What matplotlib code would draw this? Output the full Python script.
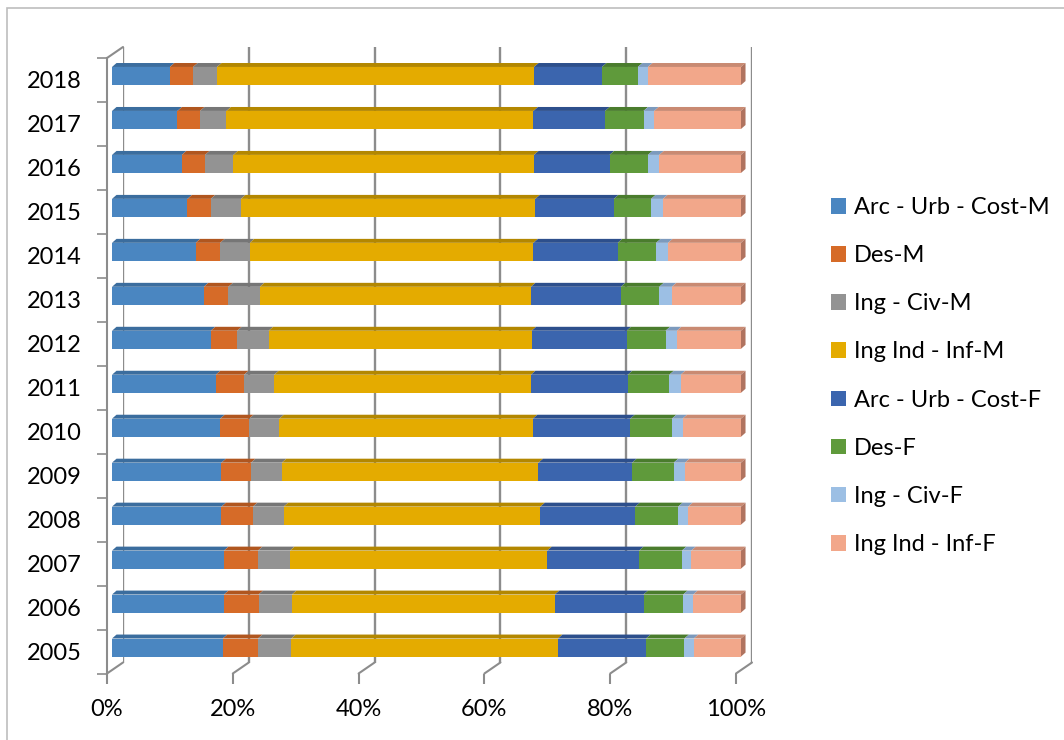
import matplotlib.pyplot as plt
import numpy as np
from matplotlib.collections import PolyCollection
from matplotlib.patches import ConnectionPatch, Patch, Rectangle

plt.rcParams["font.family"] = ["Lato", "DejaVu Sans"]

W, H = 1064, 740

years = [2005, 2006, 2007, 2008, 2009, 2010, 2011, 2012, 2013, 2014, 2015, 2016, 2017, 2018]
series_names = [
    "Arc - Urb - Cost-M",
    "Des-M",
    "Ing - Civ-M",
    "Ing Ind - Inf-M",
    "Arc - Urb - Cost-F",
    "Des-F",
    "Ing - Civ-F",
    "Ing Ind - Inf-F",
]
arc_m = [17.6, 17.8, 17.8, 17.4, 17.4, 17.2, 16.5, 15.7, 14.6, 13.3, 12.0, 11.1, 10.4, 9.2]
des_m = [5.6, 5.5, 5.4, 5.0, 4.7, 4.6, 4.5, 4.2, 3.9, 3.9, 3.7, 3.7, 3.6, 3.7]
civ_m = [5.3, 5.3, 5.1, 4.9, 4.9, 4.8, 4.8, 5.0, 5.0, 4.7, 4.8, 4.5, 4.2, 3.8]
ind_m = [42.4, 41.8, 40.9, 40.8, 40.8, 40.3, 40.8, 41.8, 43.1, 45.1, 46.8, 47.8, 48.8, 50.4]
arc_f = [14.0, 14.1, 14.6, 15.1, 14.9, 15.5, 15.4, 15.1, 14.3, 13.4, 12.5, 12.0, 11.4, 10.8]
des_f = [6.1, 6.3, 6.8, 6.8, 6.6, 6.6, 6.6, 6.2, 6.1, 6.1, 5.9, 6.1, 6.1, 5.7]
civ_f = [1.5, 1.6, 1.5, 1.6, 1.8, 1.7, 1.8, 1.8, 2.0, 1.9, 1.9, 1.8, 1.7, 1.6]
ind_f = [7.5, 7.6, 7.9, 8.4, 8.9, 9.3, 9.6, 10.2, 11.0, 11.6, 12.4, 13.0, 13.8, 14.8]

front_colors = ["#4a86c1", "#d66b28", "#939393", "#e4ab00", "#3b65ae", "#5f9a3b", "#9cbfe4", "#f2a78a"]
top_colors = ["#3b6d9e", "#b0561f", "#767676", "#b38700", "#2d4f8c", "#4a7c2d", "#7c9abd", "#c98a72"]
side_color = "#b0735f"
line_color = "#8c8c8c"


def px_rect(left, top, right, bottom):
    return [left / W, 1 - bottom / H, (right - left) / W, (bottom - top) / H]


values = np.array([arc_m, des_m, civ_m, ind_m, arc_f, des_f, civ_f, ind_f], dtype=float)
values = values / values.sum(axis=0) * 100
lefts = np.vstack([np.zeros(len(years)), np.cumsum(values, axis=0)[:-1]])
ypos = np.arange(len(years))

fig = plt.figure(figsize=(W / 100, H / 100), dpi=100)
fig.patch.set_facecolor("white")

# outer chart frame
fig.add_artist(Rectangle((7 / W, -0.1), 1.2, (H - 8) / H + 0.1, transform=fig.transFigure,
                         fill=False, ec="#bdbdbd", lw=1.2))

# back wall with gridlines
ax_back = fig.add_axes(px_rect(123, 47, 752, 662.5))
ax_back.set_xlim(0, 100)
ax_back.set_ylim(-0.5, len(years) - 0.5)
ax_back.patch.set_visible(False)
for s in ax_back.spines.values():
    s.set_visible(False)
ax_back.set_xticks(np.arange(0, 101, 20))
ax_back.set_yticks([])
ax_back.tick_params(axis="x", length=0, labelbottom=False)
ax_back.grid(axis="x", color=line_color, lw=1.7)

# bars
ax = fig.add_axes(px_rect(112, 54, 741, 669.5))
ax.set_xlim(0, 100)
ax.set_ylim(-0.5, len(years) - 0.5)
ax.axis("off")

bar_h = 0.41
dx, dy = 0.72, 0.09
for i, name in enumerate(series_names):
    ax.barh(ypos, values[i], left=lefts[i], height=bar_h, color=front_colors[i],
            edgecolor="none", label=name, zorder=2)
    tops = []
    for y, l, w in zip(ypos, lefts[i], values[i]):
        yt = y + bar_h / 2
        tops.append([(l, yt), (l + w, yt), (l + w + dx, yt + dy), (l + dx, yt + dy)])
    ax.add_collection(PolyCollection(tops, facecolors=top_colors[i], edgecolors="none",
                                     zorder=1, clip_on=False))
sides = []
for y in ypos:
    yb, yt = y - bar_h / 2, y + bar_h / 2
    sides.append([(100, yb), (100, yt), (100 + dx, yt + dy), (100 + dx, yb + dy)])
ax.add_collection(PolyCollection(sides, facecolors=side_color, edgecolors="none",
                                 zorder=1, clip_on=False))

# front axis with ticks and labels
ax_front = fig.add_axes(px_rect(107, 58, 736, 673.5))
ax_front.set_xlim(0, 100)
ax_front.set_ylim(-0.5, len(years) - 0.5)
ax_front.patch.set_visible(False)
for k, s in ax_front.spines.items():
    s.set_visible(k == "left")
ax_front.spines["left"].set_color(line_color)
ax_front.spines["left"].set_linewidth(1.5)
ticks = np.arange(0, 101, 20)
ax_front.set_xticks(ticks)
ax_front.set_xticklabels([f"{t}%" for t in ticks])
ax_front.set_yticks(ypos)
ax_front.set_yticklabels([str(y) for y in years])
ax_front.set_yticks(np.arange(-0.5, len(years)), minor=True)
ax_front.tick_params(axis="x", direction="out", length=7, width=1.5, color=line_color,
                     labelsize=17, pad=11)
ax_front.tick_params(axis="y", which="major", length=0, labelsize=17, pad=18)
ax_front.tick_params(axis="y", which="minor", direction="out", length=7, width=1.2,
                     color=line_color)

# depth edges joining front axis to back wall
for t in ticks:
    fig.add_artist(ConnectionPatch(xyA=(t, -0.5), coordsA=ax_front.transData,
                                   xyB=(t, -0.5), coordsB=ax_back.transData,
                                   color=line_color, lw=1.5))
fig.add_artist(ConnectionPatch(xyA=(0, len(years) - 0.5), coordsA=ax_front.transData,
                               xyB=(0, len(years) - 0.5), coordsB=ax_back.transData,
                               color=line_color, lw=1.5))

handles = [Patch(facecolor=c, edgecolor="none") for c in front_colors]
fig.legend(handles, series_names, loc="upper left", bbox_to_anchor=(831 / W, 1 - 197 / H),
           frameon=False, fontsize=17, handlelength=0.64, handleheight=0.64,
           handletextpad=0.33, labelspacing=1.15, borderpad=0, borderaxespad=0)

fig.savefig("out.png", dpi=100, facecolor="white")
